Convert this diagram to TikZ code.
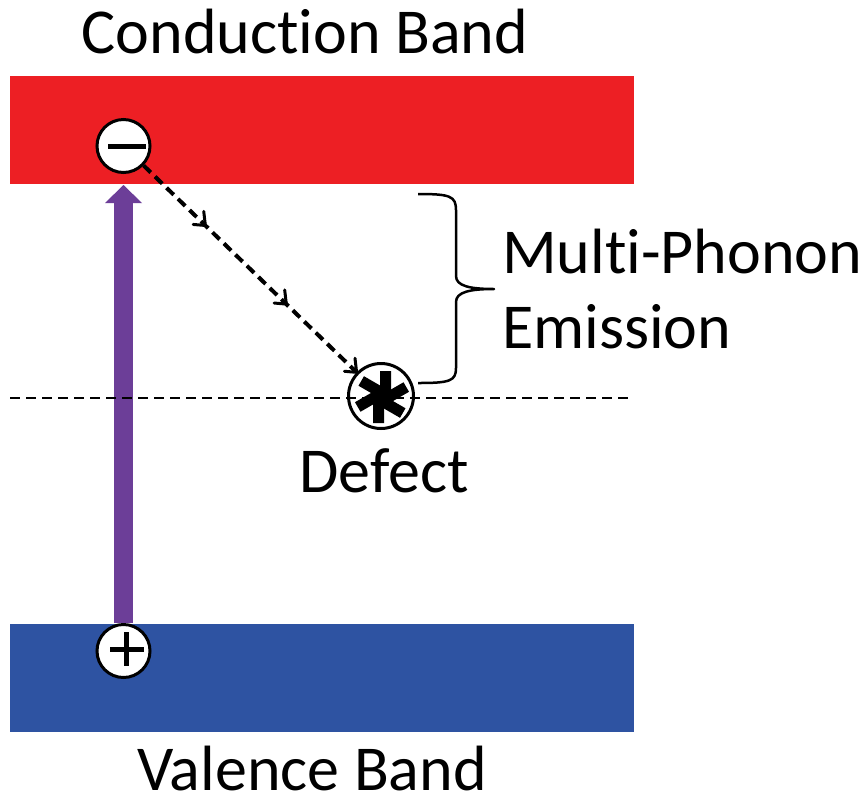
\documentclass[tikz,border=0pt]{standalone}
\usepackage{fontspec}
\setmainfont{Carlito}[Ligatures={NoCommon,NoRequired,NoContextual}]
\usetikzlibrary{decorations.markings}
\definecolor{bandred}{HTML}{ED1F24}
\definecolor{bandblue}{HTML}{2E53A2}
\definecolor{arrowpurple}{HTML}{6C3E98}
\pgfdeclarelayer{bg}
\pgfsetlayers{bg,main}
\tikzset{
  lbl/.style={font=\fontsize{64}{72}\selectfont, inner sep=0pt, anchor=base},
  carrier/.style={circle, draw=black, line width=3pt, fill=white, minimum size=53pt, inner sep=0pt},
  defectbox/.style={circle, draw=black, line width=3pt, minimum size=65pt, inner sep=0pt},
  chev/.style={solid, line width=3pt, line cap=round, line join=miter},
  hop/.style={line width=4pt, dash pattern=on 10pt off 6pt, shorten >=2pt,
    postaction={decorate},
    decoration={markings,
      mark=at position 0.29 with {\draw[chev] (-11pt,9pt) -- (0pt,0pt) -- (-11pt,-9pt);},
      mark=at position 0.67 with {\draw[chev] (-11pt,9pt) -- (0pt,0pt) -- (-11pt,-9pt);},
      mark=at position 1 with {\draw[chev] (-11pt,9pt) -- (0pt,0pt) -- (-11pt,-9pt);}}},
  level/.style={line width=2.6pt, dash pattern=on 10pt off 6pt},
}
\begin{document}
\begin{tikzpicture}[x=1pt,y=-1pt]
\useasboundingbox (0,0) rectangle (868,807);
\begin{pgfonlayer}{bg}
\fill[white] (0,0) rectangle (868,807);
\fill[bandred] (10,76) rectangle (634,184);
\fill[bandblue] (10,624) rectangle (634,732);
\end{pgfonlayer}
% labels
\node[lbl] (cb) at (305,53) {Conduction Band};
\node[lbl] (vb) at (312,790) {Valence Band};
\node[lbl, anchor=base west] (mp) at (502,273) {Multi-Phonon};
\node[lbl, anchor=base west] (em) at (502,348) {Emission};
\node[lbl] (df) at (384,492) {Defect};
% defect level line
\coordinate (lvl-l) at (10,398);
\coordinate (lvl-r) at (634,398);
\draw[level] (lvl-l) -- (lvl-r);
% carriers
\node[carrier] (m) at (123.5,146) {};
\draw[line width=5pt] (108,146) -- (146,146);
\node[carrier] (p) at (123.5,651) {};
\draw[line width=5pt] (110,649) -- (144,649) (126.5,632) -- (126.5,666);
% defect
\node[defectbox] (d) at (381,396) {};
\foreach \a in {90,150,210,270,330,30}
  \fill[black] (382,397) -- ++(\a+90:2pt) -- ++(\a:26pt) -- ++(\a-90:5pt) -- ++(\a-90:6pt) -- ++(\a+180:26pt) -- cycle;
% transitions
\begin{pgfonlayer}{bg}
\draw[arrowpurple, line width=19pt] (p) -- ([yshift=-29pt]m.south);
\fill[arrowpurple] ([xshift=-18.5pt,yshift=-29pt]m.south) -- ([yshift=-11pt]m.south) -- ([xshift=18.5pt,yshift=-29pt]m.south) -- cycle;
\end{pgfonlayer}
\draw[hop] (m) -- (d);
% brace
\draw[line width=2.5pt, line join=round]
  (418,194) .. controls (450,194) and (456,196) .. (456,210)
  -- (456,276) .. controls (456,286) and (470,289) .. (494,289)
  .. controls (470,289) and (456,292) .. (456,302)
  -- (456,368) .. controls (456,381) and (450,383) .. (418,383);
\end{tikzpicture}
\end{document}
